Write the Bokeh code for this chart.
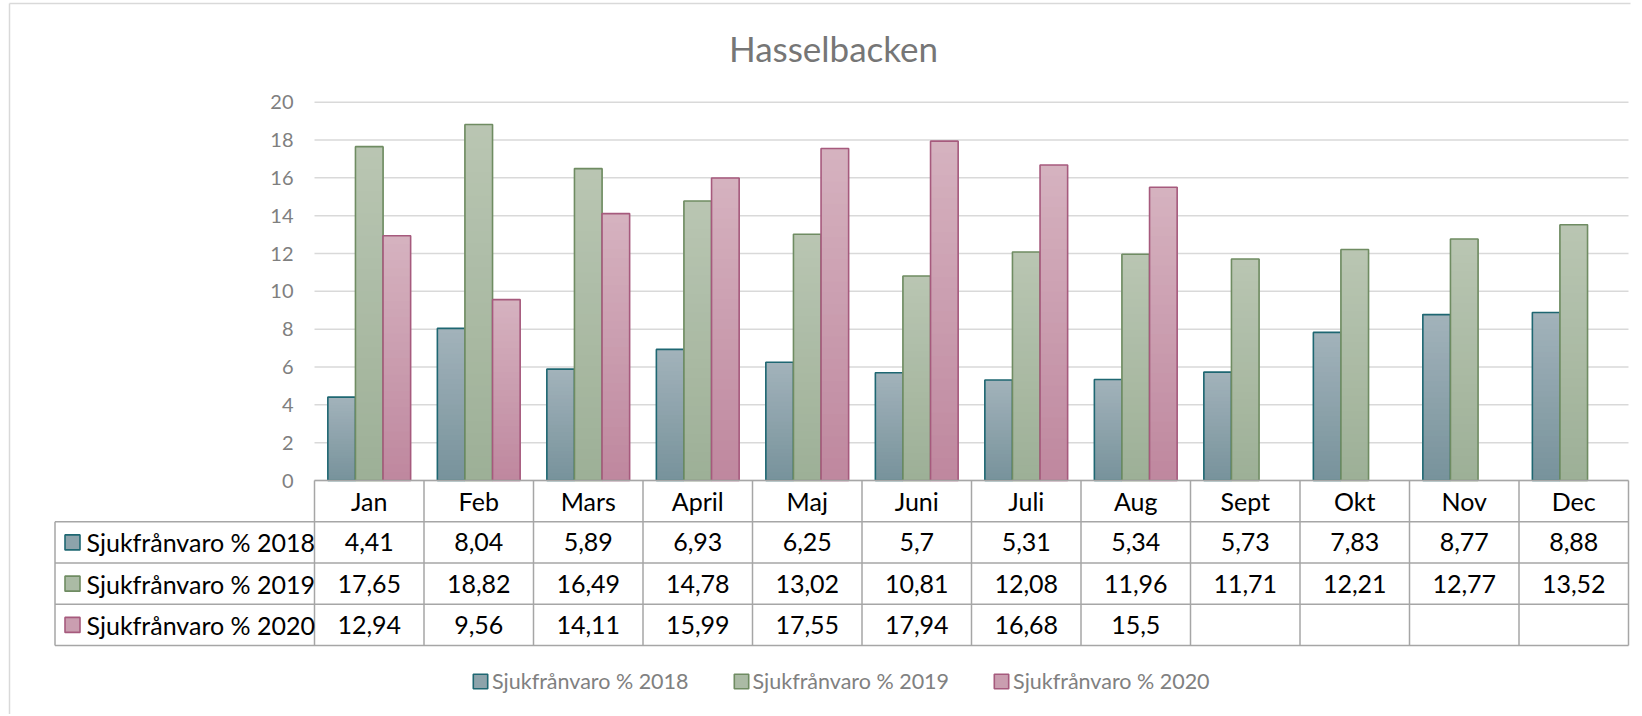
from bokeh.plotting import figure
from bokeh.models import Range1d, Legend, LegendItem, ColumnDataSource
from bokeh.embed import file_html
from bokeh.resources import INLINE
from bokeh.core.properties import value

# ---------------- data ----------------
title_text = "Hasselbacken"
months = ["Jan", "Feb", "Mars", "April", "Maj", "Juni", "Juli", "Aug", "Sept", "Okt", "Nov", "Dec"]
series_names = ["Sjukfrånvaro % 2018", "Sjukfrånvaro % 2019", "Sjukfrånvaro % 2020"]
s2018 = [4.41, 8.04, 5.89, 6.93, 6.25, 5.7, 5.31, 5.34, 5.73, 7.83, 8.77, 8.88]
s2019 = [17.65, 18.82, 16.49, 14.78, 13.02, 10.81, 12.08, 11.96, 11.71, 12.21, 12.77, 13.52]
s2020 = [12.94, 9.56, 14.11, 15.99, 17.55, 17.94, 16.68, 15.5]
y_ticks = [0, 2, 4, 6, 8, 10, 12, 14, 16, 18, 20]

series = [s2018, s2019, s2020]

# ---------------- styles ----------------
FONT = "Lato"
top_colors = ["#a3b3bb", "#bac6b3", "#d6b3c0"]
bottom_colors = ["#78939c", "#9db097", "#bf889f"]
mid_colors = ["#8da3ab", "#abbba5", "#ca9eb0"]
border_colors = ["#1e6772", "#6f8c62", "#a65a7d"]
GRID = "#d9d9d9"
TABLE_LINE = "#a6a6a6"


def hex2rgb(h):
    h = h.lstrip("#")
    return tuple(int(h[i:i + 2], 16) for i in (0, 2, 4))


def lerp(c0, c1, t):
    a, b = hex2rgb(c0), hex2rgb(c1)
    return "#%02x%02x%02x" % tuple(int(round(a[i] + (b[i] - a[i]) * t)) for i in range(3))


# ---------------- layout (pixels, canvas at page origin) ----------------
W, H = 1640, 714
PLOT_L, PLOT_R = 314, 1628  # x of plot area
ZERO_Y = 480              # y of value 0
PX_PER_UNIT = 18.915      # pixels per value unit
UNIT_W = (PLOT_R - PLOT_L) / len(months)
ROW_H = 41.25


def px2x(px):
    return -0.5 + (px - PLOT_L) / UNIT_W


def py2y(py):
    return (ZERO_Y - py) / PX_PER_UNIT


p = figure(frame_width=W, frame_height=H,
           min_border_left=0, min_border_right=0, min_border_top=0, min_border_bottom=0,
           x_range=Range1d(px2x(0), px2x(W)),
           y_range=Range1d(py2y(H), py2y(0)),
           x_axis_location=None, y_axis_location=None,
           output_backend="svg", toolbar_location=None)
p.outline_line_color = None
p.background_fill_color = "white"
p.border_fill_color = "white"
p.xgrid.grid_line_color = None
p.ygrid.grid_line_color = None

# chart border (left and top)
p.segment(x0=[px2x(9), px2x(9)], y0=[py2y(H), py2y(3)],
          x1=[px2x(9), px2x(1630)], y1=[py2y(3), py2y(3)],
          line_color=GRID, line_width=1.5)

# title
p.text(x=[px2x(833)], y=[py2y(47)], text=[title_text], text_font=value(FONT),
       text_font_size="35px", text_color="#767676", text_align="center", text_baseline="middle")

# y grid and tick labels
x_left, x_right = -0.5, len(months) - 0.5
p.segment(x0=[x_left] * len(y_ticks), y0=y_ticks, x1=[x_right] * len(y_ticks), y1=y_ticks,
          line_color=GRID, line_width=1.5)
p.text(x=[px2x(PLOT_L - 21)] * len(y_ticks), y=y_ticks, text=[str(t) for t in y_ticks],
       text_font=value(FONT), text_font_size="20px", text_color="#7f7f7f",
       text_align="right", text_baseline="middle")

# bars with vertical gradient
BW = 0.252
offsets = [-BW, 0.0, BW]
N = 30
for s, vals in enumerate(series):
    xs = [i + offsets[s] for i in range(len(vals))]
    for k in range(N):
        frac = k / N
        src = ColumnDataSource(dict(x=xs, bottom=[v * frac for v in vals], top=vals))
        p.vbar(x="x", width=BW, bottom="bottom", top="top", source=src,
               fill_color=lerp(bottom_colors[s], top_colors[s], frac), line_color=None)
    src = ColumnDataSource(dict(x=xs, top=vals))
    p.vbar(x="x", width=BW, bottom=0, top="top", source=src, fill_color=None,
           line_color=border_colors[s], line_width=1.6)

# ---------------- data table ----------------
def row_y(r):
    return py2y(ZERO_Y + r * ROW_H)


LABEL_LEFT = px2x(54.5)
n_rows = len(series) + 1

hx0 = [x_left] + [LABEL_LEFT] * n_rows
hx1 = [x_right] * (n_rows + 1)
hy = [row_y(r) for r in range(n_rows + 1)]
p.segment(x0=hx0, y0=hy, x1=hx1, y1=hy, line_color=TABLE_LINE, line_width=1.5)

vx = [LABEL_LEFT] + [i - 0.5 for i in range(len(months) + 1)]
vy0 = [row_y(1)] + [row_y(0)] * (len(months) + 1)
vy1 = [row_y(n_rows)] * (len(months) + 2)
p.segment(x0=vx, y0=vy0, x1=vx, y1=vy1, line_color=TABLE_LINE, line_width=1.5)

p.text(x=list(range(len(months))), y=[row_y(0.5)] * len(months), text=months,
       text_font=value(FONT), text_font_size="25px", text_color="black",
       text_align="center", text_baseline="middle")

legend_items = []
MARK_X = px2x(72)
NAME_X = px2x(86)
for s, vals in enumerate(series):
    ry = row_y(s + 1.5)
    labels = [str(v).replace(".", ",") for v in vals]
    p.text(x=list(range(len(vals))), y=[ry] * len(vals), text=labels,
           text_font=value(FONT), text_font_size="25px", text_color="black",
           text_align="center", text_baseline="middle")
    r = p.rect(x=[MARK_X], y=[ry], width=15, height=15, width_units="screen", height_units="screen",
               fill_color=mid_colors[s], line_color=border_colors[s], line_width=1.6)
    p.text(x=[NAME_X], y=[ry], text=[series_names[s]],
           text_font=value(FONT), text_font_size="25px", text_color="black",
           text_align="left", text_baseline="middle")
    legend_items.append(LegendItem(label=series_names[s], renderers=[r]))

legend = Legend(items=legend_items, orientation="horizontal", location=(471, H - 694),
                padding=0, margin=0, spacing=43, label_standoff=3,
                glyph_width=18, glyph_height=18,
                label_text_font=FONT, label_text_font_size="21.5px", label_text_color="#808080",
                border_line_color=None, background_fill_alpha=0)
p.add_layout(legend, "center")

open("out.html", "w").write(file_html(p, INLINE))
